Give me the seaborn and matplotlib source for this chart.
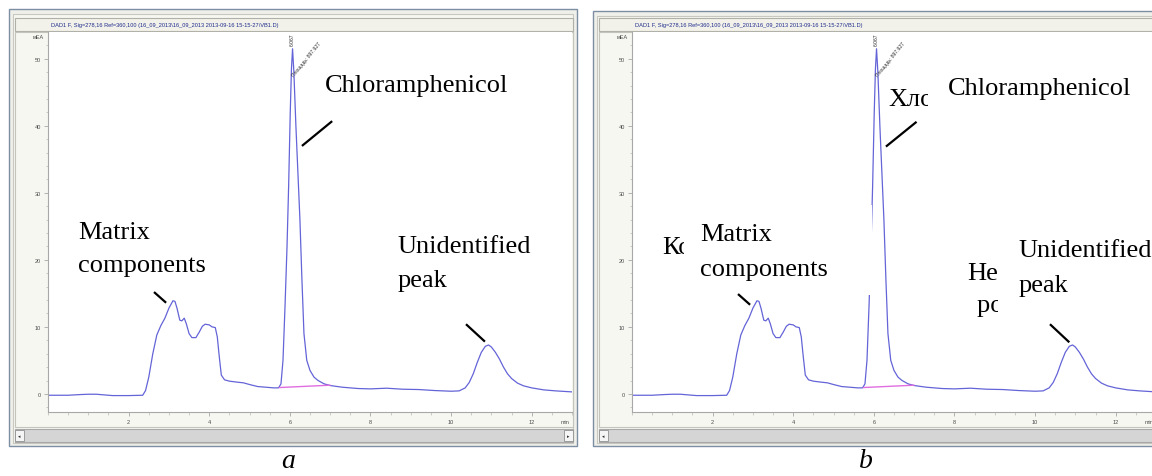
import matplotlib
matplotlib.use("Agg")
import matplotlib.pyplot as plt
import seaborn as sns
import pandas as pd
from matplotlib.patches import Rectangle

# ---------------- data ----------------
time_min = [0.0, 0.5, 0.8, 1.0, 1.2, 1.4, 1.6, 2.0, 2.35,
            2.42, 2.5, 2.6, 2.7, 2.8, 2.9, 3.0, 3.1, 3.15, 3.2, 3.27, 3.32, 3.38, 3.43,
            3.5, 3.57, 3.67, 3.75, 3.83, 3.9, 4.0, 4.07, 4.15, 4.2, 4.25, 4.3, 4.38,
            4.5, 4.7, 4.85, 5.0, 5.2, 5.4, 5.6, 5.72,
            5.78, 5.83, 5.88, 5.93, 5.97, 6.01, 6.04, 6.067, 6.1, 6.15, 6.2, 6.25,
            6.3, 6.35, 6.42, 6.5, 6.6, 6.7, 6.85, 7.0, 7.3, 7.7, 8.0, 8.4, 8.8,
            9.2, 9.6, 10.0, 10.2,
            10.35, 10.45, 10.55, 10.65, 10.75, 10.85, 10.93, 11.0, 11.1, 11.2, 11.3,
            11.4, 11.5, 11.65, 11.8, 12.0, 12.3, 12.6, 13.0]
signal_mau = [-0.2, -0.2, -0.1, -0.05, -0.05, -0.15, -0.25, -0.25, -0.2,
              0.5, 2.5, 6.0, 8.8, 10.2, 11.3, 12.8, 13.9, 13.8, 12.8, 11.0, 10.9, 11.3, 10.5,
              9.0, 8.4, 8.4, 9.2, 10.1, 10.4, 10.3, 10.0, 9.9, 8.5, 5.5, 2.8, 2.1,
              1.9, 1.75, 1.65, 1.4, 1.1, 1.0, 0.9, 0.9,
              1.5, 5.0, 13.0, 22.0, 31.0, 42.0, 48.5, 51.5, 48.0, 40.0, 33.0, 26.0,
              17.0, 9.0, 5.0, 3.5, 2.5, 2.0, 1.5, 1.25, 1.0, 0.8, 0.75, 0.85, 0.7,
              0.65, 0.5, 0.4, 0.45,
              0.9, 1.7, 3.0, 4.7, 6.2, 7.1, 7.3, 7.0, 6.2, 5.2, 4.0,
              3.0, 2.3, 1.6, 1.2, 0.9, 0.6, 0.45, 0.3]
baseline_t = [5.74, 7.0]
baseline_v = [0.95, 1.3]
peak_rt_label = "6.067"
peak_area_label = "Площадь: 897.927"
x_ticks = [2, 4, 6, 8, 10, 12]
y_ticks = [0, 10, 20, 30, 40, 50]
title_text = "DAD1 F, Sig=278,16 Ref=360,100 (16_09_2013\\16_09_2013 2013-09-16 15-15-27\\VB1.D)"
y_unit = "мЕА"
x_unit = "min"
captions = ["a", "b"]

df = pd.DataFrame({"time": time_min, "signal": signal_mau})

# ---------------- style ----------------
sns.set_theme(style="white")
plt.rcParams["font.family"] = ["Liberation Sans", "DejaVu Sans"]
plt.rcParams["text.color"] = "black"

W, H = 1152, 477
fig = plt.figure(figsize=(W / 100, H / 100), dpi=100)
fig.patch.set_facecolor("white")


def fx(px):
    return px / W


def fy(py):
    return 1 - py / H


def rect(x0, y0, x1, y1, fc, ec, lw=0.8, z=-5):
    r = Rectangle((fx(x0), fy(y1)), fx(x1) - fx(x0), (y1 - y0) / H,
                  transform=fig.transFigure, facecolor=fc, edgecolor=ec,
                  linewidth=lw, zorder=z)
    fig.add_artist(r)


TRACE = "#6464d8"
PINK = "#e06ee0"
GRAYTXT = "#4a4a4a"
SERIF = ["Liberation Serif", "DejaVu Serif"]


def window(xo, top, right):
    # outer frame, inner frame, title bar, plot panel, scroll bar
    rect(xo + 9, top, right, 447, "#f0f0ea", "#7d8ea3", 1.0, -9)
    rect(xo + 13, top + 5, right - 4, 444, "#f7f7f2", "#c8c8c0", 0.8, -8)
    rect(xo + 15, 19, right - 4, 32, "#f2f2ea", "#b0b0a8", 0.8, -7)
    rect(xo + 15, 33, right - 4, 428, "#f7f7f2", "#c4c4bc", 0.8, -7)
    rect(xo + 15, 430, right - 4, 443, "#d5d5d5", "#a8a8a8", 0.8, -7)
    rect(xo + 15, 431, xo + 24, 442, "#f5f5f5", "#909090", 0.6, -6)
    fig.text(fx(xo + 19.5), fy(436.5), "◂", fontsize=3.5, color="#303030",
             ha="center", va="center", family=["DejaVu Sans"])
    if right < W:
        rect(right - 13, 431, right - 4, 442, "#f5f5f5", "#909090", 0.6, -6)
        fig.text(fx(right - 8.5), fy(436.5), "▸", fontsize=3.5, color="#303030",
                 ha="center", va="center", family=["DejaVu Sans"])
    # title text
    fig.text(fx(xo + 165), fy(25.5), title_text, fontsize=4.1, color="#1f2a8c",
             ha="center", va="center")


def panel(xo, right_px, xmax):
    ax = fig.add_axes([fx(xo + 48), fy(413), (right_px - (xo + 48)) / W, (413 - 33) / H])
    ax.set_facecolor("white")
    sns.lineplot(data=df, x="time", y="signal", ax=ax, color=TRACE, linewidth=0.9,
                 estimator=None, sort=False, zorder=2)
    ax.plot(baseline_t, baseline_v, color=PINK, linewidth=1.0, zorder=2.1)
    ax.set_xlim(0, xmax)
    ax.set_ylim(-2.7, 54.0)
    ax.set_xticks(x_ticks)
    ax.set_yticks(y_ticks)
    ax.set_xticks([i * 0.5 for i in range(0, 27)], minor=True)
    ax.set_yticks(list(range(-2, 54, 2)), minor=True)
    ax.set_xlabel("")
    ax.set_ylabel("")
    for s in ["top", "right"]:
        ax.spines[s].set_visible(False)
    for s in ["left", "bottom"]:
        ax.spines[s].set_color("#a8a8a8")
        ax.spines[s].set_linewidth(0.8)
    ax.tick_params(which="major", length=3, width=0.6, color="#a8a8a8",
                   labelsize=4, labelcolor=GRAYTXT, pad=2, direction="out",
                   left=True, bottom=True)
    ax.tick_params(which="minor", length=1.8, width=0.5, color="#b8b8b8",
                   direction="out", left=True, bottom=True)
    ax.text(-0.019, 0.987, y_unit, transform=ax.transAxes, fontsize=4,
            color=GRAYTXT, ha="center", va="center", clip_on=False)
    ax.text(12.83, -0.024, x_unit, transform=ax.get_xaxis_transform(), fontsize=4,
            color=GRAYTXT, ha="center", va="center", clip_on=False)
    # peak labels from the data system
    ax.text(6.067, 52.0, peak_rt_label, rotation=90, fontsize=3.6, color="#303030",
            ha="center", va="bottom", clip_on=False, zorder=4)
    ax.text(6.13, 47.3, peak_area_label, rotation=51, rotation_mode="anchor",
            fontsize=3.6, color="#303030", ha="left", va="bottom", clip_on=False,
            zorder=4)
    return ax


def seg(ax, t0, v0, t1, v1):
    ax.plot([t0, t1], [v0, v1], color="black", linewidth=1.6, zorder=5,
            solid_capstyle="butt")


def label(ax, t, v, s, z=3):
    ax.text(t, v, s, fontsize=19, family=SERIF, color="black", ha="left",
            va="baseline", zorder=z)


def cover(ax, t0, t1, v0, v1, z=1.5):
    # white paper patch hiding the older labels underneath
    ax.add_patch(Rectangle((t0, v0), t1 - t0, v1 - v0, facecolor="white",
                           edgecolor="none", zorder=z))


# ---------------- panel a ----------------
window(0, 10, 577)
axa = panel(0, 572, 13.0)
label(axa, 6.87, 45.2, "Chloramphenicol")
seg(axa, 6.30, 37.0, 7.05, 40.7)
label(axa, 0.74, 23.3, "Matrix")
label(axa, 0.74, 18.4, "components")
seg(axa, 2.63, 15.2, 2.93, 13.6)
label(axa, 8.66, 21.2, "Unidentified")
label(axa, 8.66, 16.1, "peak")
seg(axa, 10.37, 10.4, 10.84, 7.8)

# ---------------- panel b ----------------
xo = 584
window(xo, 12, 1175)
axb = panel(xo, 1160, 13.1)
# original Russian labels, partly covered by the English ones
label(axb, 6.35, 43.1, "Хлорамфеникол", z=1.0)
label(axb, 0.74, 21.0, "Компоненты", z=1.0)
label(axb, 1.44, 16.1, "матрицы", z=1.0)
label(axb, 8.31, 17.2, "Неидентифици-", z=1.0)
label(axb, 8.56, 12.4, "рованный пик", z=1.0)
# English labels on white patches
cover(axb, 7.35, 13.1, 41.0, 50.5)
label(axb, 7.84, 44.8, "Chloramphenicol", z=1.6)
seg(axb, 6.30, 36.9, 7.06, 40.6)
cover(axb, 1.30, 5.4, 14.2, 29.0)
label(axb, 1.69, 22.9, "Matrix", z=1.6)
label(axb, 1.69, 17.7, "components", z=1.6)
seg(axb, 2.63, 14.9, 2.93, 13.3)
cover(axb, 9.08, 13.1, 11.4, 26.9)
label(axb, 9.58, 20.6, "Unidentified", z=1.6)
label(axb, 9.58, 15.4, "peak", z=1.6)
seg(axb, 10.37, 10.4, 10.85, 7.7)
# erased piece of the peak flank in panel b
axb.add_patch(Rectangle((5.80, 14.8), 0.165, 13.4, facecolor="white",
                        edgecolor="none", zorder=2.5))

# ---------------- captions ----------------
fig.text(fx(288), fy(462), captions[0], fontsize=20, family=SERIF, style="italic",
         color="black", ha="center", va="center")
fig.text(fx(866), fy(462), captions[1], fontsize=20, family=SERIF, style="italic",
         color="black", ha="center", va="center")

fig.savefig("out.png", dpi=100)
